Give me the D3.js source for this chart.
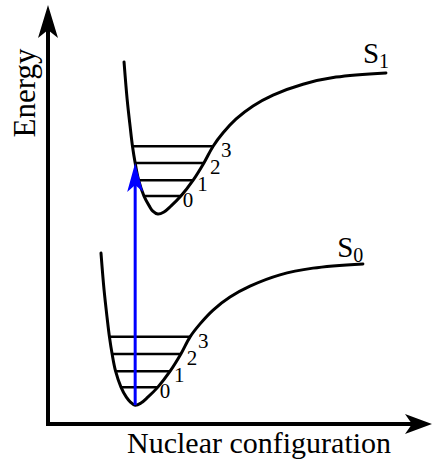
<!DOCTYPE html>
<html>
<head>
<meta charset="utf-8">
<script src="https://cdn.jsdelivr.net/npm/d3@7"></script>
<style>
  body { margin: 0; background: #fff; }
  text { font-family: "Liberation Serif", "Times New Roman", serif; fill: #000; }
</style>
</head>
<body>
<svg width="433" height="461"></svg>
<script>
// potential curves: [nuclear coordinate, energy]
var s0Points = [
    [1.38, 4.08], [1.46, 3.20], [1.54, 2.53], [1.60, 2.08], [1.67, 1.67], [1.76, 1.26],
    [1.90, 0.88], [2.04, 0.64], [2.14, 0.53], [2.27, 0.45], [2.42, 0.50], [2.60, 0.64],
    [2.86, 0.88], [3.18, 1.26], [3.46, 1.67], [3.70, 2.08], [3.96, 2.39], [4.30, 2.72],
    [4.74, 3.03], [5.26, 3.29], [6.04, 3.56], [6.90, 3.72], [8.20, 3.82]
];
var s1Points = [
    [1.98, 8.64], [2.06, 7.76], [2.14, 7.09], [2.20, 6.63], [2.27, 6.23], [2.36, 5.82],
    [2.50, 5.44], [2.64, 5.20], [2.73, 5.08], [2.86, 5.01], [3.02, 5.06], [3.20, 5.20],
    [3.46, 5.44], [3.78, 5.82], [4.06, 6.23], [4.30, 6.63], [4.56, 6.95], [4.90, 7.28],
    [5.34, 7.59], [5.86, 7.85], [6.64, 8.11], [7.50, 8.28], [8.80, 8.38]
];

// vibrational levels: v, energy, left / right turning points
var s0Levels = [
    { v: 0, e: 0.88, rL: 1.90, rR: 2.86 },
    { v: 1, e: 1.26, rL: 1.76, rR: 3.18 },
    { v: 2, e: 1.67, rL: 1.67, rR: 3.46 },
    { v: 3, e: 2.08, rL: 1.60, rR: 3.70 }
];
var s1Levels = [
    { v: 0, e: 5.44, rL: 2.50, rR: 3.46 },
    { v: 1, e: 5.82, rL: 2.36, rR: 3.78 },
    { v: 2, e: 6.23, rL: 2.27, rR: 4.06 },
    { v: 3, e: 6.63, rL: 2.20, rR: 4.30 }
];

// absorption 0 -> S1, straight up from the S0 minimum
var transition = { r: 2.27, from: 0.45, to: 6.23 };

var stateLabels = [
    { name: "S", sub: "0", r: 7.53, e: 3.99 },
    { name: "S", sub: "1", r: 8.20, e: 8.62 }
];

var svg = d3.select("svg");

var x = d3.scaleLinear().domain([0, 10]).range([48, 432]);
var y = d3.scaleLinear().domain([0, 10]).range([424, 5]);

var line = d3.line()
    .x(d => x(d[0]))
    .y(d => y(d[1]))
    .curve(d3.curveCatmullRom.alpha(0.5));

// swept arrow head, tip at origin pointing along +x
function arrowHead(len, half, notch) {
    return "M0,0L" + (-len) + "," + (-half) + "L" + (-len + notch) + ",0L" + (-len) + "," + half + "Z";
}

// axes
svg.append("line")
    .attr("x1", x(0)).attr("y1", y(0) + 2)
    .attr("x2", x(0)).attr("y2", y(10) + 20)
    .attr("stroke", "#000").attr("stroke-width", 4);
svg.append("path")
    .attr("d", arrowHead(33, 10, 8))
    .attr("transform", "translate(" + x(0) + "," + y(10) + ") rotate(-90)")
    .attr("fill", "#000");

svg.append("line")
    .attr("x1", x(0) - 2).attr("y1", y(0))
    .attr("x2", x(10) - 20).attr("y2", y(0))
    .attr("stroke", "#000").attr("stroke-width", 4);
svg.append("path")
    .attr("d", arrowHead(27, 10, 7))
    .attr("transform", "translate(" + x(10) + "," + y(0) + ")")
    .attr("fill", "#000");

svg.append("text")
    .attr("transform", "translate(35,93) rotate(-90)")
    .attr("text-anchor", "middle")
    .attr("font-size", 31)
    .text("Energy");

svg.append("text")
    .attr("x", 127).attr("y", 453)
    .attr("font-size", 30)
    .text("Nuclear configuration");

// potential curves
[s0Points, s1Points].forEach(function (pts) {
    svg.append("path")
        .attr("d", line(pts))
        .attr("fill", "none")
        .attr("stroke", "#000")
        .attr("stroke-width", 3)
        .attr("stroke-linecap", "round");
});

// levels and their quantum numbers
[s0Levels, s1Levels].forEach(function (levels) {
    svg.append("g").selectAll("line").data(levels).enter()
        .append("line")
        .attr("x1", d => x(d.rL)).attr("x2", d => x(d.rR))
        .attr("y1", d => y(d.e)).attr("y2", d => y(d.e))
        .attr("stroke", "#000").attr("stroke-width", 2.5);
    svg.append("g").selectAll("text").data(levels).enter()
        .append("text")
        .attr("x", d => x(d.rR) + 2 + d.v * 2)
        .attr("y", d => y(d.e) + 11)
        .attr("font-size", 21)
        .text(d => d.v);
});

// state names
stateLabels.forEach(function (d) {
    var t = svg.append("text")
        .attr("x", x(d.r)).attr("y", y(d.e))
        .attr("font-size", 29)
        .text(d.name);
    t.append("tspan")
        .attr("font-size", 20)
        .attr("dy", 5)
        .text(d.sub);
});

// blue absorption arrow
svg.append("line")
    .attr("x1", x(transition.r)).attr("y1", y(transition.from))
    .attr("x2", x(transition.r)).attr("y2", y(transition.to) + 20)
    .attr("stroke", "#0000ff").attr("stroke-width", 3);
svg.append("path")
    .attr("d", arrowHead(29, 8, 7))
    .attr("transform", "translate(" + x(transition.r) + "," + y(transition.to) + ") rotate(-90)")
    .attr("fill", "#0000ff");
</script>
</body>
</html>
